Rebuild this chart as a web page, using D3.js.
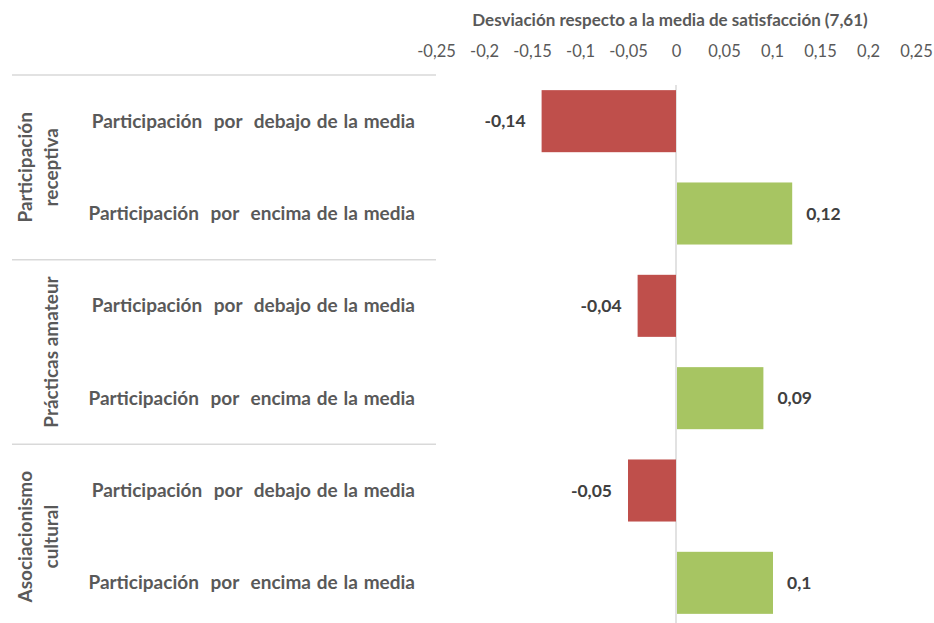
<!DOCTYPE html>
<html>
<head>
<meta charset="utf-8">
<script src="https://cdn.jsdelivr.net/npm/d3@7"></script>
<style>
  body { margin: 0; background: #fff; }
  text { font-family: "Lato", "Open Sans", sans-serif; }
</style>
</head>
<body>
<div id="chart"></div>
<script>
// data
const groupNames = [["Participación", "receptiva"], ["Prácticas amateur"], ["Asociacionismo", "cultural"]];
const rowLabels = ["Participación  por  debajo de la media", "Participación  por  encima de la media"];
const values = [-0.14, 0.12, -0.04, 0.09, -0.05, 0.1];
const tickValues = [-0.25, -0.2, -0.15, -0.1, -0.05, 0, 0.05, 0.1, 0.15, 0.2, 0.25];
const axisTitle = "Desviación respecto a la media de satisfacción (7,61)";

const width = 934, height = 623;
const fmt = v => String(v).replace(".", ",");

const rows = [];
groupNames.forEach((g, gi) => {
  rowLabels.forEach((lab, li) => {
    rows.push({ id: gi * 2 + li, group: gi, label: lab, value: values[gi * 2 + li] });
  });
});

const svg = d3.select("#chart").append("svg")
  .attr("width", width)
  .attr("height", height);

svg.append("rect").attr("width", width).attr("height", height).attr("fill", "#fff");

const x = d3.scaleLinear().domain([-0.25, 0.25]).range([436, 916]);
const y = d3.scaleBand()
  .domain(rows.map(d => d.id))
  .range([75, 629])
  .paddingInner(0.328)
  .paddingOuter(0.164);

// axis title
svg.append("text")
  .attr("x", 670).attr("y", 26)
  .attr("text-anchor", "middle")
  .attr("font-size", 17).attr("font-weight", "bold")
  .attr("fill", "#595959")
  .text(axisTitle);

// top axis, labels only
const ax = svg.append("g")
  .attr("transform", "translate(0,57)")
  .call(d3.axisTop(x).tickValues(tickValues).tickSize(0).tickPadding(0).tickFormat(fmt));
ax.select(".domain").remove();
ax.selectAll("text")
  .attr("font-size", 16.5)
  .attr("fill", "#595959")
  .style("font-family", "Lato, 'Open Sans', sans-serif");

// group separators
const step = y.step();
d3.range(groupNames.length).forEach(gi => {
  const yy = y(gi * 2) - (step - y.bandwidth()) / 2;
  svg.append("line")
    .attr("x1", 12).attr("x2", 436)
    .attr("y1", yy).attr("y2", yy)
    .attr("stroke", "#d9d9d9").attr("stroke-width", 1.5);
});

// zero line
svg.append("line")
  .attr("x1", x(0)).attr("x2", x(0))
  .attr("y1", 85).attr("y2", height)
  .attr("stroke", "#d9d9d9").attr("stroke-width", 1.5);

// bars
svg.selectAll(".bar")
  .data(rows)
  .enter().append("rect")
  .attr("class", "bar")
  .attr("x", d => x(Math.min(0, d.value)) + (d.value > 0 ? 1 : 0))
  .attr("width", d => Math.abs(x(d.value) - x(0)))
  .attr("y", d => y(d.id))
  .attr("height", y.bandwidth())
  .attr("fill", d => d.value < 0 ? "#bf4f4b" : "#a7c562");

// value labels
svg.selectAll(".val")
  .data(rows)
  .enter().append("text")
  .attr("class", "val")
  .attr("x", d => d.value < 0 ? x(d.value) - 16 : x(d.value) + 15)
  .attr("y", d => y(d.id) + y.bandwidth() / 2)
  .attr("dy", "0.35em")
  .attr("text-anchor", d => d.value < 0 ? "end" : "start")
  .attr("font-size", 17.5).attr("font-weight", "bold")
  .attr("fill", "#404040")
  .text(d => fmt(d.value));

// row labels
svg.selectAll(".row")
  .data(rows)
  .enter().append("text")
  .attr("class", "row")
  .attr("x", 415)
  .attr("y", d => y(d.id) + y.bandwidth() / 2)
  .attr("dy", "0.35em")
  .attr("text-anchor", "end")
  .attr("font-size", 19).attr("font-weight", "bold")
  .attr("fill", "#595959")
  .attr("word-spacing", 1.2)
  .style("white-space", "pre")
  .text(d => d.label);

// group labels, rotated
groupNames.forEach((lines, gi) => {
  const cy = (y(gi * 2) + y(gi * 2 + 1) + y.bandwidth()) / 2;
  const g = svg.append("g").attr("transform", "translate(0," + cy + ") rotate(-90)");
  lines.forEach((ln, i) => {
    g.append("text")
      .attr("x", 0)
      .attr("y", 58 - (lines.length - 1 - i) * 26)
      .attr("text-anchor", "middle")
      .attr("font-size", 19).attr("font-weight", "bold")
      .attr("fill", "#595959")
      .text(ln);
  });
});
</script>
</body>
</html>
